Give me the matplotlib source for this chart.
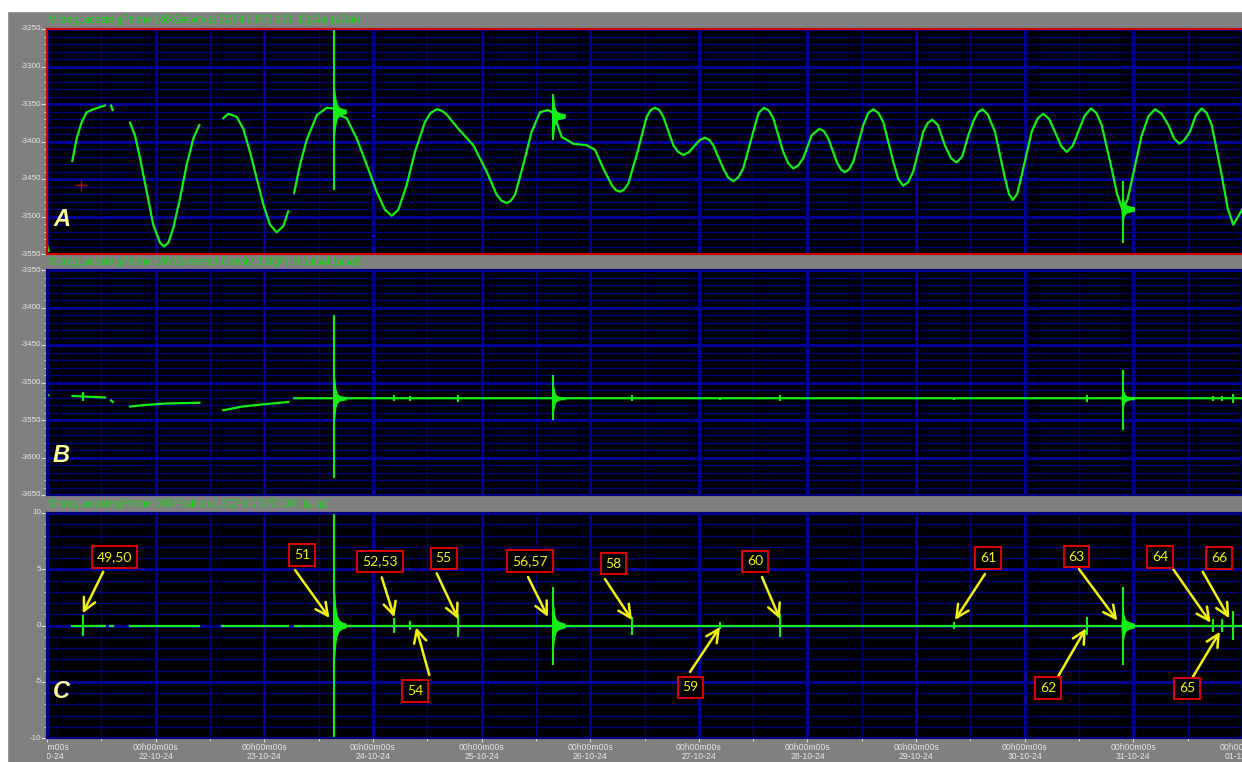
import numpy as np
import matplotlib.pyplot as plt
from matplotlib.ticker import MultipleLocator
from matplotlib.patches import Rectangle
from matplotlib.transforms import Bbox

nan = np.nan

# time = decimal day of October 2024 (21.0 -> 21-10-24 00h00m00s)
day_ticks = list(range(21, 33))
day_labels = ['21-10-24', '22-10-24', '23-10-24', '24-10-24', '25-10-24', '26-10-24',
              '27-10-24', '28-10-24', '29-10-24', '30-10-24', '31-10-24', '01-11-24']

# --- A: gravity (uGal), NaN = data gap
grav_t = [21.000, 21.015, nan,
          21.233, 21.273, 21.319, 21.365, 21.426, 21.534, nan,
          21.590, 21.605, nan,
          21.764, 21.810, 21.856, 21.918, 21.978, 22.040, 22.077, 22.117, 22.163, 22.224, 22.286,
          22.347, 22.402, nan,
          22.623, 22.669, 22.746, 22.807, 22.869, 22.930, 22.991, 23.053, 23.114, 23.175, 23.221, nan,
          23.274, 23.329, 23.390, 23.483, 23.575, 23.635, 23.697, 23.759, 23.851, 23.943,
          24.035, 24.111, 24.173, 24.234, 24.311, 24.387, 24.479, 24.530, 24.587, 24.635,
          24.679, 24.786, 24.924, 25.047, 25.139, 25.185, 25.231, 25.270, 25.308, 25.384,
          25.461, 25.538, 25.614, 25.660, 25.738, 25.845, 25.968, 26.044, 26.121, 26.198,
          26.236, 26.274, 26.312, 26.351, 26.428, 26.520, 26.558, 26.597, 26.636, 26.673,
          26.765, 26.810, 26.857, 26.910, 26.965, 27.010, 27.057, 27.097, 27.133, 27.225,
          27.270, 27.317, 27.363, 27.409, 27.501, 27.550, 27.600, 27.645, 27.685, 27.777,
          27.823, 27.869, 27.915, 27.962, 28.038, 28.108, 28.150, 28.192, 28.269, 28.307,
          28.345, 28.383, 28.422, 28.514, 28.560, 28.606, 28.652, 28.698, 28.790, 28.836,
          28.882, 28.928, 28.974, 29.066, 29.108, 29.149, 29.200, 29.265, 29.320, 29.372,
          29.425, 29.480, 29.530, 29.570, 29.613, 29.660, 29.726, 29.818, 29.855, 29.889,
          29.930, 29.972, 30.064, 30.120, 30.171, 30.225, 30.278, 30.335, 30.386, 30.440,
          30.493, 30.550, 30.610, 30.660, 30.708, 30.800, 30.850, 30.900, 30.945, 30.984,
          31.076, 31.140, 31.199, 31.260, 31.322, 31.375, 31.423, 31.470, 31.521, 31.575,
          31.629, 31.675, 31.721, 31.813, 31.870, 31.920, 32.000]
grav_v = [-3538, -3546, nan,
          -3426, -3396, -3374, -3361, -3357, -3352, nan,
          -3352, -3358, nan,
          -3375, -3392, -3422, -3467, -3511, -3535, -3540, -3535, -3515, -3476, -3431,
          -3396, -3378, nan,
          -3369, -3363, -3367, -3383, -3414, -3449, -3484, -3511, -3521, -3513, -3493, nan,
          -3469, -3431, -3398, -3365, -3355, -3356, -3365, -3369, -3396, -3431,
          -3467, -3491, -3499, -3491, -3458, -3414, -3374, -3362, -3357, -3359,
          -3364, -3383, -3405, -3440, -3471, -3479, -3482, -3479, -3471, -3431,
          -3387, -3361, -3358, -3362, -3394, -3403, -3405, -3411, -3436, -3458,
          -3465, -3467, -3464, -3456, -3418, -3367, -3358, -3355, -3358, -3367,
          -3405, -3414, -3418, -3414, -3405, -3398, -3395, -3398, -3405, -3436,
          -3448, -3453, -3448, -3436, -3387, -3362, -3355, -3359, -3369, -3414,
          -3429, -3436, -3432, -3422, -3392, -3383, -3386, -3396, -3427, -3437,
          -3441, -3437, -3427, -3378, -3362, -3357, -3362, -3374, -3427, -3450,
          -3459, -3454, -3440, -3387, -3375, -3371, -3378, -3405, -3422, -3428,
          -3420, -3392, -3372, -3361, -3357, -3364, -3387, -3449, -3470, -3478,
          -3470, -3445, -3387, -3369, -3363, -3370, -3387, -3406, -3414, -3406,
          -3387, -3366, -3356, -3362, -3378, -3436, -3470, -3491, -3478, -3453,
          -3392, -3366, -3357, -3363, -3378, -3396, -3403, -3398, -3387, -3365,
          -3356, -3362, -3378, -3445, -3490, -3511, -3491]

# --- B: corrected gravity (uGal)
corr_t = [21.000, 21.012, nan, 21.235, 21.534, nan, 21.590, 21.605, nan,
          21.764, 21.900, 22.100, 22.402, nan, 22.623, 22.800, 23.000, 23.221, nan,
          23.274, 32.000]
corr_v = [-3517, -3517, nan, -3518, -3520, nan, -3524, -3526, nan,
          -3532, -3530, -3528, -3527, nan, -3537, -3532, -3529, -3526, nan,
          -3521, -3521]

# --- C: position (u)
pos_t = [21.227, 21.534, nan, 21.580, 21.610, nan, 21.764, 22.402, nan,
         22.614, 23.221, nan, 23.283, 32.000]
pos_v = [0, 0, nan, 0, 0, nan, 0, 0, nan, 0, 0, nan, 0, 0]

# earthquakes: spike extent in each panel
quake_t = [23.645, 25.660, 30.900]
grav_spike_hi = [-3240, -3336, -3453]
grav_spike_lo = [-3464, -3398, -3535]
corr_spike_hi = [-3410, -3490, -3483]
corr_spike_lo = [-3627, -3550, -3563]
pos_spike_hi = [10.5, 3.4, 3.45]
pos_spike_lo = [-10.5, -3.5, -3.5]

# ringing envelope after each quake (time after event, half-width)
burst_dt = [-0.014, -0.005, 0.000, 0.006, 0.014, 0.026, 0.045, 0.075, 0.110]
grav_burst_mid = [-3360, -3366, -3490]
grav_burst_amp = [[4, 22, 31, 27, 18, 10, 6, 4, 3], [3, 18, 30, 24, 13, 8, 5, 4, 3],
                  [4, 14, 24, 18, 11, 7, 5, 4, 3]]
corr_burst_amp = [[2, 18, 30, 24, 13, 7, 4, 3, 2], [2, 12, 20, 15, 9, 5, 3, 2, 2],
                  [2, 12, 18, 14, 8, 5, 3, 2, 2]]
pos_burst_amp = [[0.3, 2.2, 3.1, 2.6, 1.6, 0.9, 0.5, 0.3, 0.2], [0.2, 1.4, 2.0, 1.7, 1.0, 0.6, 0.4, 0.3, 0.2],
                 [0.2, 1.3, 1.8, 1.5, 1.0, 0.6, 0.4, 0.3, 0.2]]

# small disturbances
blip_t = [21.329, 24.197, 24.341, 24.786, 26.385, 27.195, 27.747, 29.350, 30.570, 31.736, 31.813, 31.917]
pos_blip_amp = [0.9, 0.7, 0.4, 1.0, 0.8, 0.3, 1.0, 0.3, 0.8, 0.6, 0.6, 1.3]
corr_blip_mid = [-3518, -3521, -3521, -3521, -3521, -3521, -3521, -3521, -3521, -3521, -3521, -3521]
corr_blip_amp = [6, 4, 3, 5, 4, 2, 4, 2, 5, 3, 3, 6]

# event annotations in panel C
ann_labels = ['49,50', '51', '52,53', '55', '54', '56,57', '58', '60', '61', '59', '62', '63', '64', '66', '65']
ann_tip_t = [21.329, 23.600, 24.197, 24.786, 24.397, 25.611, 26.385, 27.747, 29.358, 27.195, 30.564,
             30.852, 31.711, 31.883, 31.797]
ann_tip_v = [1.08, 0.67, 0.73, 0.56, -0.16, 0.76, 0.49, 0.58, 0.49, -0.13, -0.25, 0.43, 0.25, 0.64, -0.55]
ann_from_t = [21.518, 23.283, 24.081, 24.587, 24.519, 25.428, 26.136, 27.581, 29.634, 26.919, 30.309,
              30.499, 31.367, 31.638, 31.546]
ann_from_v = [4.78, 4.93, 4.28, 4.64, -4.4, 4.31, 4.13, 4.31, 4.58, -4.13, -4.49, 5.02, 5.0, 4.78, -4.6]
ann_box_t = [21.621, 23.347, 24.065, 24.650, 24.387, 25.446, 26.214, 27.517, 29.661, 26.923, 30.214,
             30.476, 31.249, 31.788, 31.498]
ann_box_v = [6.09, 6.24, 5.69, 5.96, -5.82, 5.73, 5.51, 5.69, 6.0, -5.51, -5.56, 6.13, 6.09, 6.0, -5.6]

titles = ['MicrogLacoste:gPhone 165:Gravity (LSQFit 0.070,100, 1)\u00b5Gal (\u00b5Gal)',
          'MicrogLacoste:gPhone 165:Corrected Gravity (LSQFit 0.0\u00b5Gal (\u00b5Gal)',
          'MicrogLacoste:gPhone 165:Position (LSQFit 0.070,100, 1\u00b5 (\u00b5)']

# ---------------------------------------------------------------- figure
W, H = 1242, 762
GREEN = '#14f014'
plt.rcParams['font.family'] = ['Liberation Sans', 'DejaVu Sans']
fig = plt.figure(figsize=(W / 100, H / 100), dpi=100, facecolor='#808080')

fig.patches.append(Rectangle((0, 1 - 11 / H), 1, 11 / H, transform=fig.transFigure, color='white', zorder=0))
fig.patches.append(Rectangle((0, 0), 7 / W, 1, transform=fig.transFigure, color='white', zorder=0))

panel_top = [29, 270, 513]
title_y = [20, 262, 504]
ylims = [(-3550, -3250), (-3650, -3350), (-10, 10)]
ymaj = [50, 50, 5]
ymin = [10, 10, 1]
letter_pos = [(62, 219), (61, 455), (61, 692)]

axes = []
for i in range(3):
    top = panel_top[i]
    ax = fig.add_axes([47 / W, 1 - (top + 225) / H, 1195 / W, 225 / H])
    ax.set_facecolor('black')
    ax.set_xlim(21, 32)
    ax.set_ylim(*ylims[i])
    ax.xaxis.set_major_locator(MultipleLocator(1))
    ax.xaxis.set_minor_locator(MultipleLocator(0.5))
    ax.yaxis.set_major_locator(MultipleLocator(ymaj[i]))
    ax.yaxis.set_minor_locator(MultipleLocator(ymin[i]))
    ax.set_axisbelow(True)
    ax.grid(which='major', color='#000096', lw=2.2)
    ax.grid(which='minor', color='#00007c', lw=1.0)
    ax.tick_params(axis='y', which='major', length=4, color='#d8d8d8', width=0.8, labelleft=False)
    ax.tick_params(axis='y', which='minor', length=2, color='#d8d8d8', width=0.8)
    ax.tick_params(axis='x', which='both', labelbottom=False, length=0)
    spine_col = '#c80000' if i == 0 else '#000080'
    for s in ['left', 'top', 'bottom']:
        ax.spines[s].set_color(spine_col)
        ax.spines[s].set_linewidth(1.6)
    ax.spines['right'].set_visible(False)

    # y tick labels, clipped to the panel band
    clip = Bbox([[0, H - (top + 225 + 3)], [47, H - (top - 4)]])
    lo, hi = ylims[i]
    for v in np.arange(lo, hi + 1, ymaj[i]):
        t = fig.text(-5.5 / 1195, v, '%d' % v, transform=ax.get_yaxis_transform(), ha='right', va='center',
                     fontsize=5.8, color='#e6e6e6')
        t.set_clip_box(clip)
        t.set_clip_on(True)

    fig.text(48 / W, 1 - title_y[i] / H, titles[i], color='#12dc12', fontsize=7.3, va='center')
    lx, ly = letter_pos[i]
    fig.text(lx / W, 1 - ly / H, 'ABC'[i], color='#ffff9c', fontsize=17, fontweight='bold',
             fontstyle='italic', ha='center', va='center', zorder=10)
    axes.append(ax)

axA, axB, axC = axes

# A: gravity
axA.plot(grav_t, grav_v, color=GREEN, lw=1.6, solid_joinstyle='round')
axA.vlines(quake_t, grav_spike_lo, grav_spike_hi, color=GREEN, lw=1.5)
for q, mid, amp in zip(quake_t, grav_burst_mid, grav_burst_amp):
    tt = np.array(burst_dt) + q
    axA.fill_between(tt, mid - np.array(amp), mid + np.array(amp), color=GREEN, lw=0)
axA.plot([21.313], [-3458], marker='+', color='#b40000', ms=8, mew=1)

# B: corrected gravity
axB.plot(corr_t, corr_v, color=GREEN, lw=1.6)
axB.vlines(quake_t, corr_spike_lo, corr_spike_hi, color=GREEN, lw=1.5)
for q, amp in zip(quake_t, corr_burst_amp):
    tt = np.array(burst_dt) + q
    axB.fill_between(tt, -3521 - np.array(amp), -3521 + np.array(amp), color=GREEN, lw=0)
axB.vlines(blip_t, np.array(corr_blip_mid) - corr_blip_amp, np.array(corr_blip_mid) + corr_blip_amp,
           color=GREEN, lw=1.5)

# C: position
axC.plot(pos_t, pos_v, color=GREEN, lw=1.6)
axC.vlines(quake_t, pos_spike_lo, pos_spike_hi, color=GREEN, lw=1.5)
for q, amp in zip(quake_t, pos_burst_amp):
    tt = np.array(burst_dt) + q
    axC.fill_between(tt, -np.array(amp), np.array(amp), color=GREEN, lw=0)
axC.vlines(blip_t, -np.array(pos_blip_amp), pos_blip_amp, color=GREEN, lw=1.5)

for lab, tx, ty, fx, fy, bx, by in zip(ann_labels, ann_tip_t, ann_tip_v, ann_from_t, ann_from_v,
                                      ann_box_t, ann_box_v):
    axC.annotate('', xy=(tx, ty), xytext=(fx, fy),
                 arrowprops=dict(arrowstyle='->,head_length=0.9,head_width=0.45', color='#f2f20a',
                                 lw=1.8, shrinkA=0, shrinkB=0), annotation_clip=False, zorder=6)
    axC.text(bx, by, lab, ha='center', va='center', color='#f2f20a', fontsize=10, family='Lato', zorder=7,
             bbox=dict(boxstyle='square,pad=0.35', fc='black', ec='#e00000', lw=1.4))

# bottom time axis of C
axC.tick_params(axis='x', which='major', length=3, color='#d8d8d8', width=0.8)
axC.tick_params(axis='x', which='minor', length=2, color='#d8d8d8', width=0.8)
xclip = Bbox([[47, 0], [W, H - 738]])
for d, lab in zip(day_ticks, day_labels):
    t = fig.text(d, -5 / 225, '00h00m00s\n' + lab, transform=axC.get_xaxis_transform(), ha='center',
                 va='top', fontsize=6.2, color='#e6e6e6', linespacing=1.05)
    t.set_clip_box(xclip)
    t.set_clip_on(True)

fig.savefig('out.png', dpi=100, facecolor=fig.get_facecolor())
